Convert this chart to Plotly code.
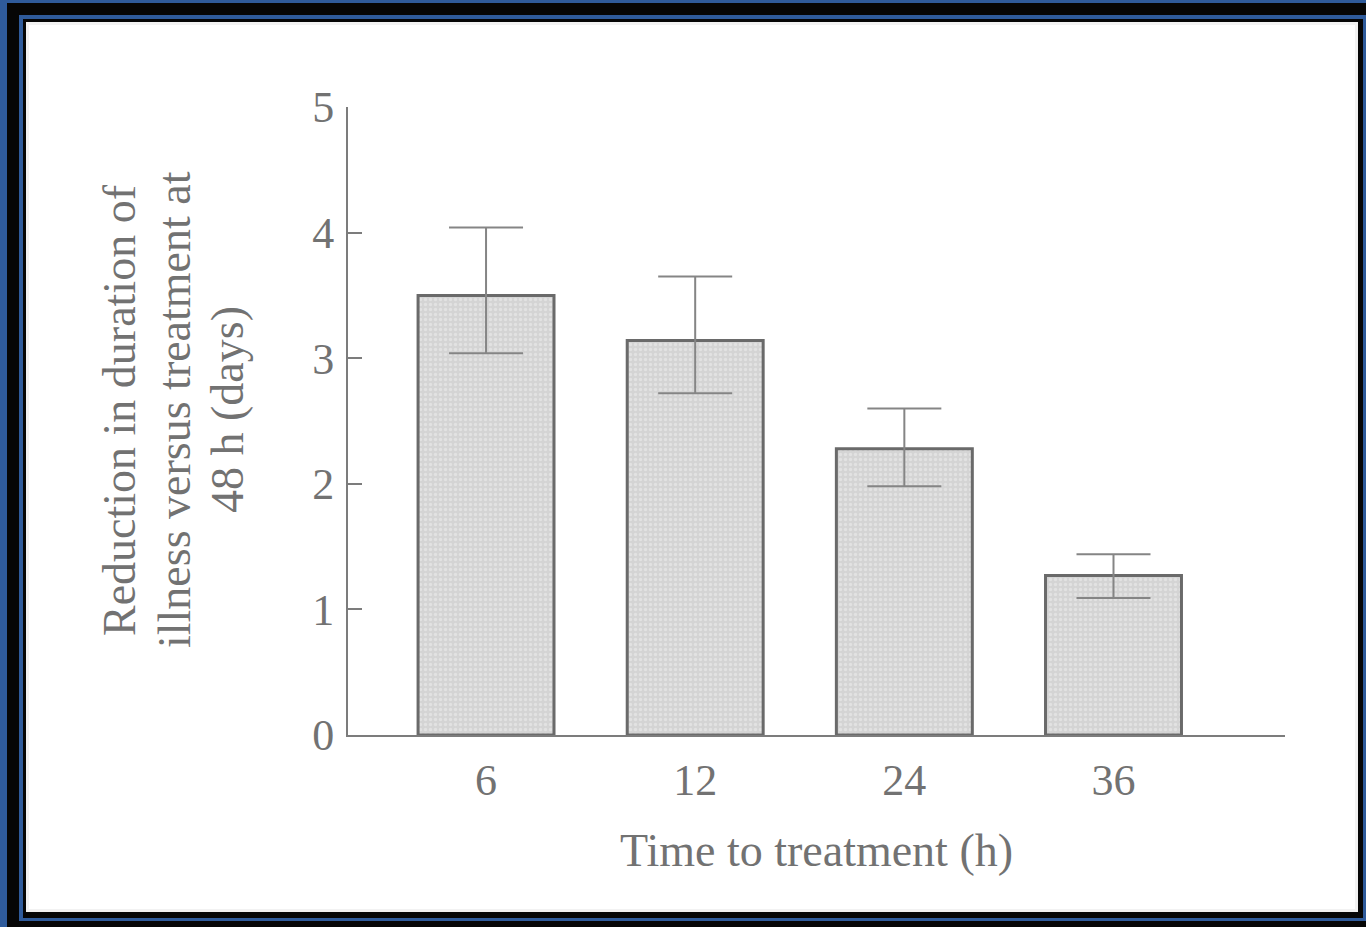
import plotly.graph_objects as go

# ---- data ----
categories = ["6", "12", "24", "36"]
values = [3.50, 3.14, 2.28, 1.27]
err_plus = [0.54, 0.51, 0.32, 0.17]
err_minus = [0.46, 0.42, 0.30, 0.18]
y_ticks = [0, 1, 2, 3, 4, 5]
x_title = "Time to treatment (h)"
y_title_lines = ["Reduction in duration of", "illness versus treatment at", "48 h (days)"]

W, H = 1366, 927
L, R, T, B = 348, 81, 107, 192
PW, PH = W - L - R, H - T - B

def px(x):
    return (x - L) / PW

def py(y):
    return (H - B - y) / PH

text_col = "#727272"
axis_col = "#7c7c7c"
font_fam = "Liberation Serif, Times New Roman, serif"

fig = go.Figure()
fig.add_trace(go.Bar(
    x=categories, y=values, width=0.65,
    marker=dict(
        color="#d9d9d9",
        line=dict(color="#6a6a6a", width=3),
        pattern=dict(shape=".", bgcolor="#d4d4d4", fgcolor="#efefef", size=5, solidity=0.35),
    ),
    error_y=dict(type="data", symmetric=False, array=err_plus, arrayminus=err_minus,
                 color="#858585", thickness=2, width=37),
    showlegend=False,
))

# frame layers (paper coordinates computed from pixel positions)
frame = [
    ((0, 0, W, H), "#2f5b9b"),
    ((7, 3, W, H), "#060606"),
    ((19, 15, W, 921), "#2f5b9b"),
    ((23, 19, 1363, 918), "#060606"),
    ((26, 22, 1358, 912), "#f2f2f2"),
    ((29, 25, 1355, 909), "#ffffff"),
]
shapes = []
for (x0, y0, x1, y1), c in frame:
    shapes.append(dict(type="rect", xref="paper", yref="paper", layer="below",
                       x0=px(x0), x1=px(x1), y0=py(y1), y1=py(y0),
                       fillcolor=c, line=dict(width=0)))

# y-axis title lines as rotated annotations (tighter line spacing, as in the original)
title_x = [120, 175, 228]
annotations = []
for line, xc in zip(y_title_lines, title_x):
    annotations.append(dict(text=line, xref="paper", yref="paper", x=px(xc), y=py(410),
                            xanchor="center", yanchor="middle", textangle=-90, showarrow=False,
                            font=dict(size=46, color=text_col, family=font_fam)))

fig.update_layout(
    width=W, height=H,
    margin=dict(l=L, r=R, t=T, b=B),
    paper_bgcolor="#2f5b9b",
    plot_bgcolor="rgba(0,0,0,0)",
    shapes=shapes,
    annotations=annotations,
    font=dict(family=font_fam, color=text_col, size=44),
    xaxis=dict(
        range=[-0.66, 3.82], showline=True, linecolor=axis_col, linewidth=2,
        ticks="", showgrid=False, zeroline=False,
        tickfont=dict(size=44, color=text_col), ticklabelstandoff=5,
        title=dict(text=x_title, font=dict(size=46, color=text_col), standoff=30),
    ),
    yaxis=dict(
        range=[0, 5], tickvals=y_ticks, showline=True, linecolor=axis_col, linewidth=2,
        ticks="inside", ticklen=14, tickwidth=1.5, tickcolor=axis_col,
        showgrid=False, zeroline=False,
        tickfont=dict(size=44, color=text_col), ticklabelstandoff=3,
    ),
)

fig.write_html("out.html", config={"displayModeBar": False},
               post_script="document.body.style.margin='0px';document.body.style.overflow='hidden';")
